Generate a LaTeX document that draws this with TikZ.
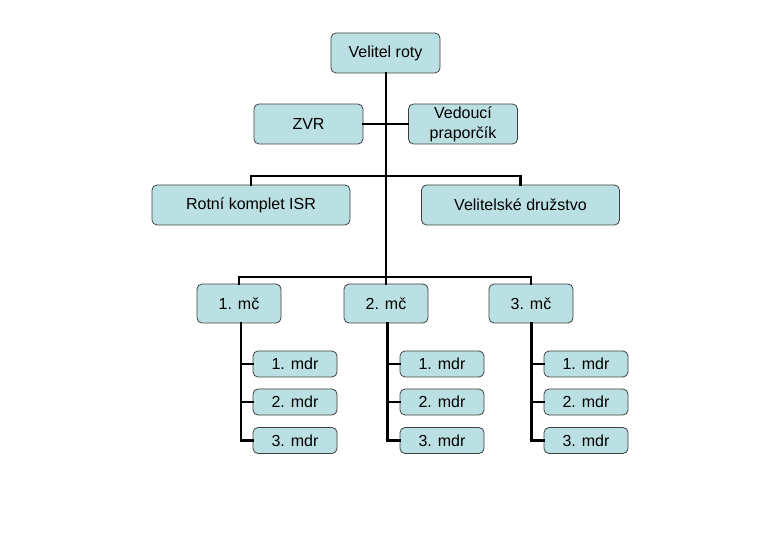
\documentclass[tikz,border=0pt]{standalone}
\usepackage{fontspec}
\setmainfont{Liberation Sans}
\definecolor{boxfill}{RGB}{187,224,227}
\definecolor{boxline}{RGB}{64,64,64}
\begin{document}
\begin{tikzpicture}[x=1pt,y=-1pt,
  box/.style={draw=boxline, fill=boxfill, line width=0.8pt, rounded corners=5pt,
    inner sep=0pt, align=center, font=\fontsize{16}{20}\selectfont},
  big/.style={box, minimum width=109pt, minimum height=40pt},
  wide/.style={box, minimum width=198pt, minimum height=40pt},
  mc/.style={box, minimum width=84pt, minimum height=39pt},
  mdr/.style={box, minimum width=84pt, minimum height=26pt},
  link/.style={line width=2.4pt, line cap=rect}]
  \useasboundingbox (0,0) rectangle (780,540);

  % Velitel roty a stab
  \node[big] (velitel) at (385.5,53) {Velitel roty};
  \node[big] (zvr) at (308.5,124) {ZVR};
  \node[big] (vedouci) at (463,124) {Vedoucí\\praporčík};

  % Komplet a druzstvo
  \node[wide] (isr) at (251,205) {Rotní komplet ISR};
  \node[wide] (druzstvo) at (520.5,205) {Velitelské družstvo};

  % Cety
  \node[mc] (mc1) at (239,303.5) {1. mč};
  \node[mc] (mc2) at (386,303.5) {2. mč};
  \node[mc] (mc3) at (531,303.5) {3. mč};

  % Druzstva cet
  \foreach \c/\x in {1/295,2/442,3/586} {
    \node[mdr] (m\c1) at (\x,364) {1. mdr};
    \node[mdr] (m\c2) at (\x,402) {2. mdr};
    \node[mdr] (m\c3) at (\x,440.5) {3. mdr};
  }

  % Spojnice
  \coordinate (bar1) at (385.7,176);
  \coordinate (bar2) at (385.7,277);
  \draw[link] (velitel.south -| bar1) -- (bar2);
  \draw[link] (zvr.east) -- (vedouci.west);
  \draw[link] (isr.north) |- (bar1) -| (druzstvo.north);
  \draw[link] (mc1.north) |- (bar2) -| (mc3.north);
  \draw[link] (mc2.north) -- (mc2.north |- bar2);

  \foreach \c/\x in {1/240.7,2/387.5,3/531.5} {
    \draw[link] (\x,0 |- mc\c.south) -- (\x,0 |- m\c3.west) -- (m\c3.west);
    \draw[link] (\x,0 |- m\c1.west) -- (m\c1.west);
    \draw[link] (\x,0 |- m\c2.west) -- (m\c2.west);
  }
\end{tikzpicture}
\end{document}
